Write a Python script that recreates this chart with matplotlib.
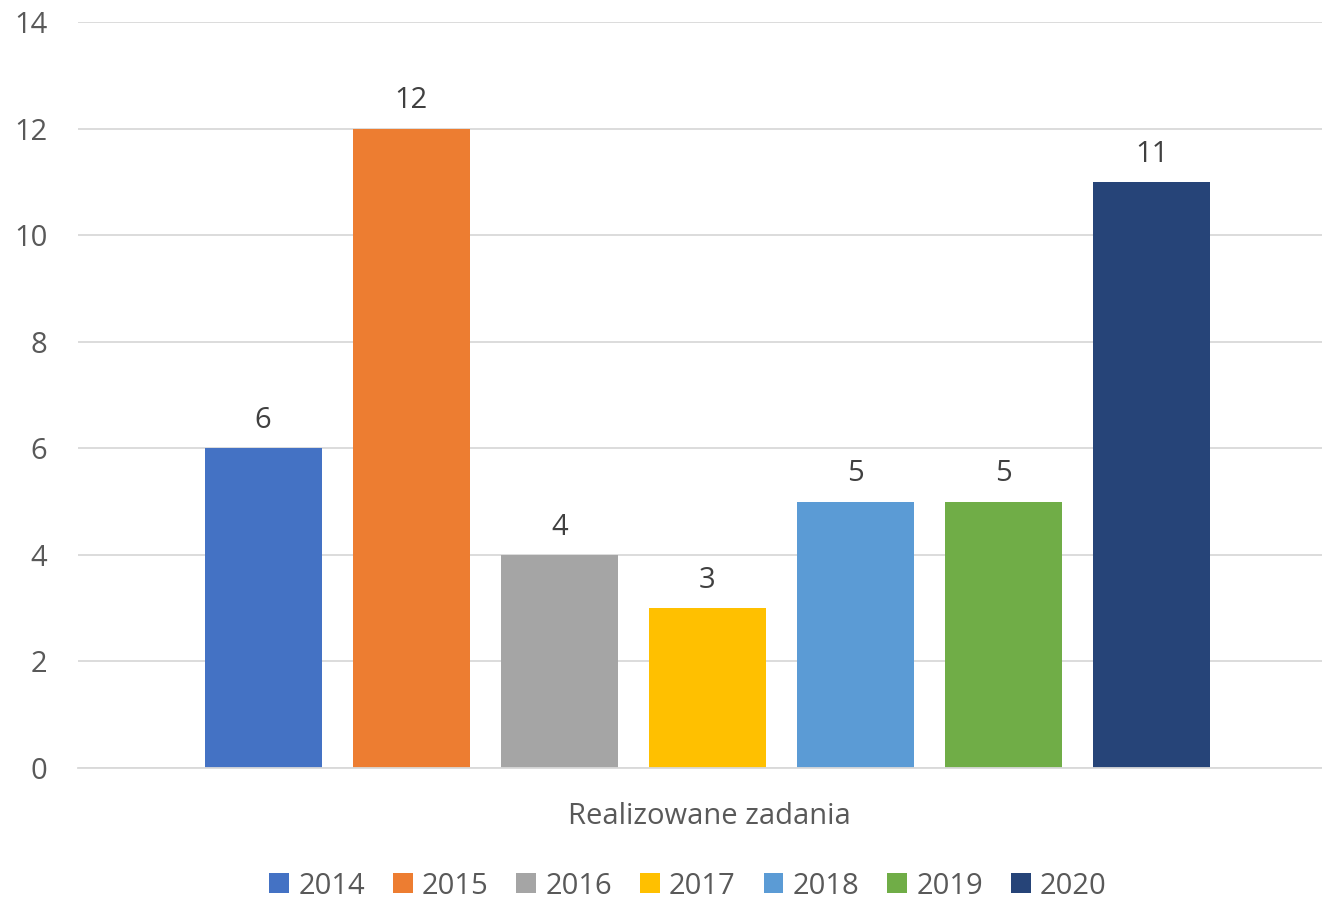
import matplotlib.pyplot as plt
import numpy as np

years = ["2014", "2015", "2016", "2017", "2018", "2019", "2020"]
values = [6, 12, 4, 3, 5, 5, 11]
colors = ["#4472C4", "#ED7D31", "#A5A5A5", "#FFC000", "#5B9BD5", "#70AD47", "#264478"]
category = "Realizowane zadania"

plt.rcParams['font.family'] = ['Open Sans', 'DejaVu Sans']
txt = "#595959"
fs = 21

fig = plt.figure(figsize=(13.22, 8.99), dpi=100)
ax = fig.add_axes([78 / 1322, 1 - 768 / 899, (1322 - 78) / 1322, (768 - 22) / 899])

offsets = np.arange(len(years)) - 3
for off, y, v, c in zip(offsets, years, values, colors):
    ax.bar(off, v, width=0.79, color=c, label=y, zorder=2)
    ax.text(off, v + 0.25, str(v), ha='center', va='bottom', fontsize=fs, color="#404040")

ax.set_xlim(-4.25, 4.15)
ax.set_ylim(0, 14)
ax.set_yticks(range(0, 15, 2))
ax.tick_params(axis='y', length=0, labelsize=fs, labelcolor=txt, pad=22)
ax.set_xticks([])
ax.grid(axis='y', color="#D9D9D9", linewidth=1.3, zorder=0)
for s in ['top', 'right', 'left']:
    ax.spines[s].set_visible(False)
ax.spines['bottom'].set_color("#D9D9D9")
ax.spines['bottom'].set_linewidth(1.3)

fig.text(709 / 1322, 1 - 816 / 899, category, ha='center', va='center', fontsize=fs, color=txt)
fig.legend(loc='center', bbox_to_anchor=(688 / 1322, 1 - 886 / 899), ncol=7, frameon=False,
           fontsize=fs, labelcolor=txt, handlelength=0.68, handleheight=0.68,
           handletextpad=0.32, columnspacing=0.95)

fig.savefig("out.png", dpi=100)
